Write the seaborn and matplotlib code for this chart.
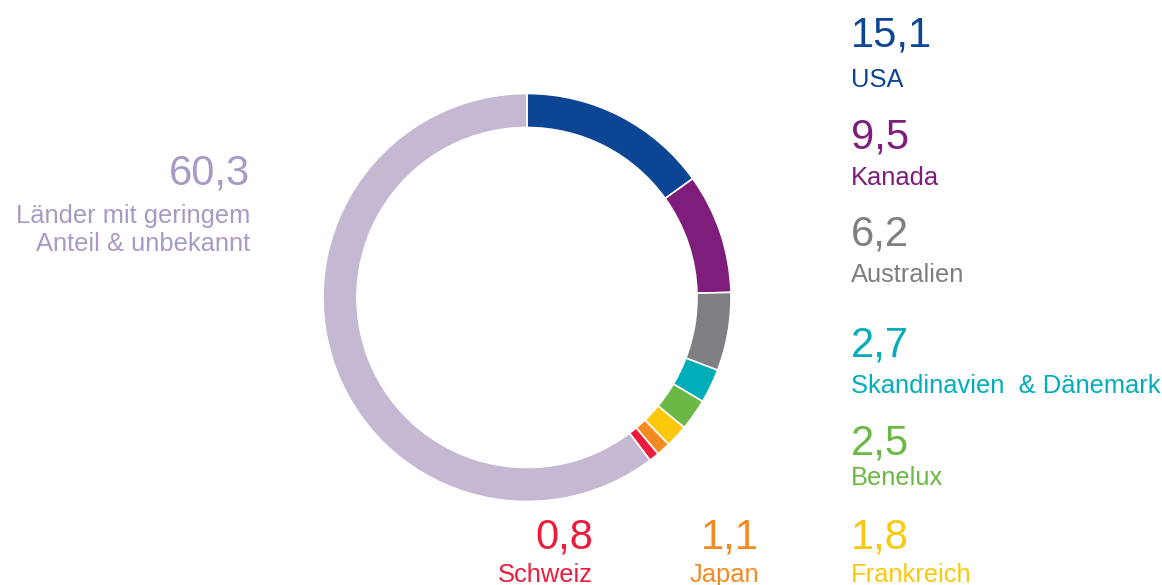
import matplotlib
matplotlib.use("Agg")
import matplotlib.pyplot as plt
import seaborn as sns

sns.set_theme(style="white")
plt.rcParams['font.family'] = ['Liberation Sans', 'DejaVu Sans']

# shares in percent, clockwise from 12 o'clock
countries = ['USA', 'Kanada', 'Australien', 'Skandinavien  & Dänemark', 'Benelux',
             'Frankreich', 'Japan', 'Schweiz', 'Länder mit geringem\nAnteil & unbekannt']
shares = [15.1, 9.5, 6.2, 2.7, 2.5, 1.8, 1.1, 0.8, 60.3]
colors = ['#0B4594', '#7E1D7B', '#7D7F82', '#00ADB9', '#6BB844',
          '#FCC80B', '#F48A22', '#EC1C3A', '#C4B8D3']
text_colors = colors[:-1] + ['#A999C6']

W, H = 1162, 585
fig = plt.figure(figsize=(W / 100, H / 100), dpi=100)

cx, cy, r = 527, 297.5, 204
ax = fig.add_axes([(cx - r) / W, (H - cy - r) / H, 2 * r / W, 2 * r / H])
ax.pie(shares, colors=colors, startangle=90, counterclock=False, radius=1,
       wedgeprops=dict(width=34 / r, edgecolor='white', linewidth=1.2))
ax.set_xlim(-1, 1)
ax.set_ylim(-1, 1)
ax.set_aspect('equal')
ax.axis('off')

# label anchors in pixels: (x, value baseline, name baseline, alignment)
anchors = [
    (851, 47, 87, 'left'),
    (851, 149, 185, 'left'),
    (851, 245, 282, 'left'),
    (851, 357, 393, 'left'),
    (851, 455, 485, 'left'),
    (851, 548, 582, 'left'),
    (759, 548, 582, 'right'),
    (593, 548, 582, 'right'),
    (250, 185, 223, 'right'),
]

def fx(x):
    return x / W

def fy(y):
    return 1 - y / H

for name, val, col, (x, yv, yn, ha) in zip(countries, shares, text_colors, anchors):
    fig.text(fx(x), fy(yv), f"{val:.1f}".replace('.', ','), color=col,
             fontsize=30, ha=ha, va='baseline')
    lines = name.split('\n')
    for i, line in enumerate(lines):
        fig.text(fx(x), fy(yn + i * 28), line, color=col, fontsize=18.4,
                 ha=ha, va='baseline')

fig.savefig('out.png', dpi=100)
